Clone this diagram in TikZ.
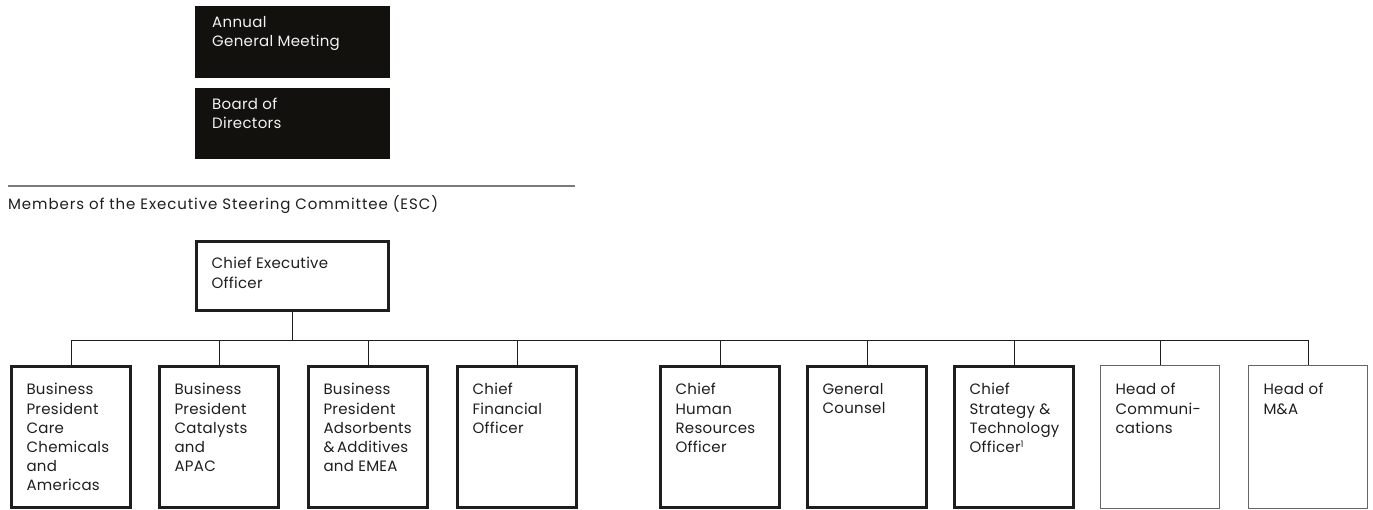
\documentclass[tikz,border=0pt]{standalone}
\usepackage{fontspec}
\setmainfont{Poppins}[LetterSpace=2]
\definecolor{ink}{HTML}{1E1E1E}
\definecolor{panel}{HTML}{12110D}
\definecolor{rule}{HTML}{7A7A7A}
\definecolor{thinedge}{HTML}{666666}
\newcommand{\boxtext}[3]{\parbox[c][#1][t]{#2}{\raggedright #3}}
\newcommand{\notemark}[1]{\raisebox{5pt}{\fontsize{9}{9}\selectfont #1}}
\begin{document}
\begin{tikzpicture}[x=1pt,y=-1pt,
  every node/.style={font=\fontsize{15}{19.2}\selectfont, text=ink},
  govbox/.style={rectangle, fill=panel, draw=panel, anchor=north west,
    inner xsep=17pt, inner ysep=0pt, text=white!95!black},
  escbox/.style={rectangle, draw=ink, line width=3pt, anchor=north west,
    inner xsep=15pt, inner ysep=17pt},
  thinbox/.style={escbox, draw=thinedge, line width=1pt, inner ysep=18pt},
  conn/.style={draw=ink, line width=1pt}]
\useasboundingbox (0,0) rectangle (1373,510);

% governance bodies
\node[govbox] (agm) at (195,6) {\boxtext{71pt}{160pt}{\vspace{10pt}Annual\\General Meeting}};
\node[govbox] (bod) at (195,88) {\boxtext{70pt}{160pt}{\vspace{10pt}Board of\\Directors}};

% separator and caption
\draw[rule, line width=1.5pt] (8,186) -- (575,186);
\node[anchor=base west, inner sep=0pt,
  font=\fontsize{15}{18}\selectfont\addfontfeature{LetterSpace=6}] (esc) at (8,210)
  {Members of the Executive Steering Committee (ESC)};

% chief executive
\node[escbox, inner ysep=16pt] (ceo) at (195,240) {\boxtext{37pt}{162pt}{Chief Executive\\Officer}};

% reporting members
\node[escbox] (b1) at (10,365)   {\boxtext{107pt}{89pt}{Business\\President\\Care\\Chemicals\\and\\Americas}};
\node[escbox] (b2) at (158,365)  {\boxtext{107pt}{89pt}{Business\\President\\Catalysts\\and\\APAC}};
\node[escbox] (b3) at (307,365)  {\boxtext{107pt}{89pt}{Business\\President\\Adsorbents\\\&\,Additives\\and EMEA}};
\node[escbox] (b4) at (456,365)  {\boxtext{107pt}{89pt}{Chief\\Financial\\Officer}};
\node[escbox] (b5) at (659,365)  {\boxtext{107pt}{89pt}{Chief\\Human\\Resources\\Officer}};
\node[escbox] (b6) at (806,365)  {\boxtext{107pt}{89pt}{General\\Counsel}};
\node[escbox] (b7) at (953,365)  {\boxtext{107pt}{89pt}{Chief\\Strategy \&\\Technology\\Officer\notemark{1}}};
\node[thinbox] (b8) at (1100,365) {\boxtext{107pt}{89pt}{Head of\\Communi-\\cations}};
\node[thinbox] (b9) at (1248,365) {\boxtext{107pt}{89pt}{Head of\\M\&A}};

% reporting lines
\coordinate (bus) at (0,341);
\draw[conn] (ceo.south) -- (ceo.south |- bus);
\draw[conn] (b1.north) -- (b1.north |- bus) -- (b9.north |- bus) -- (b9.north);
\foreach \i in {2,...,8} \draw[conn] (b\i.north) -- (b\i.north |- bus);
\end{tikzpicture}
\end{document}
